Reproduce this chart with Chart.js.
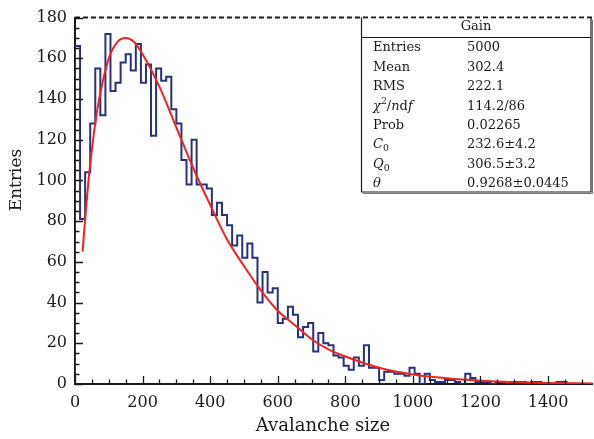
<!DOCTYPE html>
<html>
<head>
<meta charset="utf-8">
<script src="https://cdn.jsdelivr.net/npm/chart.js@4.4.1/dist/chart.umd.min.js"></script>
<style>
  html, body { margin: 0; padding: 0; background: #fff; }
</style>
</head>
<body>
<canvas id="c" width="594" height="439"></canvas>
<script>
// Avalanche size histogram (15-unit bins over 0..1530) with the Polya fit drawn on top.

const BIN_WIDTH = 15;
const X_MAX = 1530;
const Y_MAX = 180;

// bin contents, read bin by bin off the picture
const entries = [
  166, 81, 104, 128, 155, 132, 172, 144, 148, 158,
  162, 154, 167, 148, 157, 122, 155, 149, 151, 135,
  128, 110, 98, 120, 98, 98, 96, 83, 89, 83,
  78, 68, 73, 62, 69, 62, 40, 55, 45, 47,
  30, 32, 38, 34, 23, 28, 30, 16, 25, 20,
  19, 14, 13, 9, 7, 13, 9, 19, 8, 8,
  2, 6, 6, 5, 5, 4, 8, 5, 0, 5,
  2, 1, 1, 2, 2, 1, 0, 5, 3, 1,
  1, 1, 0, 1, 1, 0, 1, 1, 1, 0,
  1, 1, 0, 0, 0, 1, 1, 0, 0, 0,
  0, 0,
];

// red fit curve
const fitX = [22.5, 30, 40, 50, 60, 75, 100, 125, 150, 175, 200, 250, 300, 350, 400,
  450, 500, 550, 600, 650, 700, 750, 800, 900, 1000, 1100, 1200, 1300, 1400, 1530];
const fitY = [65, 81, 100, 115, 128, 143, 160, 168, 170, 168, 162, 146, 126, 106, 88,
  71, 58, 46, 36, 29, 22, 17, 13.5, 8, 4.7, 2.8, 1.6, 0.9, 0.5, 0.25];

const xMajor = 200, xMinor = 50;
const yMajor = 20, yMinor = 5;

// stats box: labels as [text, style] runs, style: i = italic, sup, sub
const statTitle = 'Gain';
const statLabels = [
  [['Entries']],
  [['Mean']],
  [['RMS']],
  [['χ', 'i'], ['2', 'sup'], ['/'], ['n', 'i'], ['d'], ['f', 'i']],
  [['Prob']],
  [['C', 'i'], ['0', 'sub']],
  [['Q', 'i'], ['0', 'sub']],
  [['θ', 'i']],
];
const statValues = ['5000', '302.4', '222.1', '114.2/86', '0.02265', '232.6±4.2', '306.5±3.2', '0.9268±0.0445'];

const FONT = "'DejaVu Serif', 'Liberation Serif', serif";
const INK = '#1a1a1a';

const histPoints = [{ x: 0, y: 0 }];
entries.forEach((v, i) => histPoints.push({ x: i * BIN_WIDTH, y: v }));
histPoints.push({ x: entries.length * BIN_WIDTH, y: 0 });
const fitPoints = fitX.map((x, i) => ({ x, y: fitY[i] }));

// ROOT-style inward tick marks plus the dashed top edge
const frameTicks = {
  id: 'frameTicks',
  afterDatasetsDraw(chart) {
    const { ctx, chartArea: a, scales: { x, y } } = chart;
    ctx.save();
    ctx.strokeStyle = INK;
    ctx.lineWidth = 1.3;
    ctx.beginPath();
    for (let v = 0; v <= X_MAX; v += xMinor) {
      const px = Math.round(x.getPixelForValue(v)) + 0.5;
      const len = v % xMajor === 0 ? 8 : 4.5;
      ctx.moveTo(px, a.bottom);
      ctx.lineTo(px, a.bottom - len);
    }
    for (let v = 0; v <= Y_MAX; v += yMinor) {
      const py = Math.round(y.getPixelForValue(v)) + 0.5;
      const len = v % yMajor === 0 ? 8 : 4.5;
      ctx.moveTo(a.left, py);
      ctx.lineTo(a.left + len, py);
    }
    ctx.stroke();
    ctx.setLineDash([5, 3]);
    ctx.lineWidth = 2;
    ctx.beginPath();
    ctx.moveTo(a.left, a.top);
    ctx.lineTo(a.right, a.top);
    ctx.stroke();
    ctx.restore();
  },
};

function drawRuns(ctx, runs, x, y, size) {
  for (const [t, style] of runs) {
    const small = style === 'sup' || style === 'sub';
    const s = small ? size * 0.72 : size;
    ctx.font = `${style === 'i' ? 'italic ' : ''}${s}px ${FONT}`;
    const dy = style === 'sup' ? -size * 0.38 : (style === 'sub' ? size * 0.3 : 0);
    ctx.fillText(t, x, y + dy);
    x += ctx.measureText(t).width;
  }
}

const statsBox = {
  id: 'statsBox',
  afterDraw(chart) {
    const { ctx, chartArea: a } = chart;
    const left = 361, right = 591, top = a.top, bottom = 192, divider = 37;
    ctx.save();
    ctx.fillStyle = '#fff';
    ctx.fillRect(left, top + 1, right - left, bottom - top - 1);
    ctx.strokeStyle = INK;
    ctx.lineWidth = 1.2;
    ctx.beginPath();
    ctx.moveTo(left + 0.5, top);
    ctx.lineTo(left + 0.5, bottom);
    ctx.lineTo(right, bottom);
    ctx.lineTo(right, top);
    ctx.moveTo(left, divider + 0.5);
    ctx.lineTo(right, divider + 0.5);
    ctx.stroke();
    ctx.lineWidth = 1;
    ctx.strokeStyle = '#777';
    ctx.beginPath();
    ctx.moveTo(left + 2, bottom + 1.5);
    ctx.lineTo(right + 1.5, bottom + 1.5);
    ctx.lineTo(right + 1.5, top + 2);
    ctx.stroke();

    ctx.fillStyle = INK;
    ctx.textBaseline = 'middle';
    ctx.textAlign = 'center';
    ctx.font = `13px ${FONT}`;
    ctx.fillText(statTitle, (left + right) / 2, 26.5);
    ctx.textAlign = 'left';
    statLabels.forEach((runs, i) => {
      const rowY = 48 + i * 19.4;
      drawRuns(ctx, runs, 373, rowY, 13);
      ctx.font = `13px ${FONT}`;
      ctx.fillText(statValues[i], 467, rowY);
    });
    ctx.restore();
  },
};

const axisTitles = {
  id: 'axisTitles',
  afterDraw(chart) {
    const { ctx } = chart;
    ctx.save();
    ctx.fillStyle = INK;
    ctx.textAlign = 'center';
    ctx.textBaseline = 'middle';
    ctx.font = `18px ${FONT}`;
    ctx.fillText('Avalanche size', 323, 426);
    ctx.translate(17, 180);
    ctx.rotate(-Math.PI / 2);
    ctx.font = `17px ${FONT}`;
    ctx.fillText('Entries', 0, 0);
    ctx.restore();
  },
};

new Chart(document.getElementById('c'), {
  type: 'line',
  data: {
    datasets: [
      {
        label: 'Polya fit',
        data: fitPoints,
        borderColor: '#f42121',
        borderWidth: 2,
        pointRadius: 0,
        cubicInterpolationMode: 'monotone',
        order: 1,
      },
      {
        label: 'Gain',
        data: histPoints,
        borderColor: '#27317c',
        borderWidth: 2,
        pointRadius: 0,
        stepped: true,
        order: 2,
      },
    ],
  },
  options: {
    responsive: false,
    devicePixelRatio: 1,
    animation: false,
    parsing: false,
    layout: { padding: { top: 15, right: 2, bottom: 0, left: 0 } },
    plugins: {
      legend: { display: false },
      tooltip: { enabled: false },
    },
    scales: {
      x: {
        type: 'linear',
        min: 0,
        max: X_MAX,
        afterFit: (s) => { s.height = 55; },
        grid: { display: false, drawTicks: false },
        border: { display: true, color: INK, width: 2 },
        ticks: {
          stepSize: xMajor,
          includeBounds: false,
          maxRotation: 0,
          autoSkip: false,
          padding: 9,
          color: INK,
          font: { family: FONT, size: 16 },
          callback: (v) => String(v),
        },
      },
      y: {
        min: 0,
        max: Y_MAX,
        afterFit: (s) => { s.width = 75; },
        grid: { display: false, drawTicks: false },
        border: { display: true, color: INK, width: 2 },
        ticks: {
          stepSize: yMajor,
          padding: 8,
          color: INK,
          font: { family: FONT, size: 16 },
          callback: (v) => String(v),
        },
      },
    },
  },
  plugins: [frameTicks, statsBox, axisTitles],
});
</script>
</body>
</html>
